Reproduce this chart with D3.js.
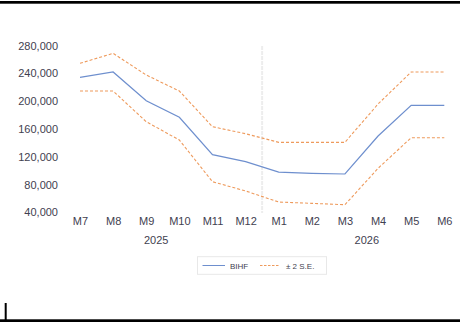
<!DOCTYPE html>
<html>
<head>
<meta charset="utf-8">
<script src="https://cdn.jsdelivr.net/npm/d3@7"></script>
<style>
  html, body { margin: 0; padding: 0; background: #fff; }
  svg { display: block; font-family: "Liberation Sans", Arial, sans-serif; }
</style>
</head>
<body>
<svg id="chart" width="460" height="322"></svg>
<script>
// Monthly categories (July 2025 – June 2026)
const months = ["M7", "M8", "M9", "M10", "M11", "M12", "M1", "M2", "M3", "M4", "M5", "M6"];
const years = [
  { label: "2025", pos: 2.3 },
  { label: "2026", pos: 8.66 }
];
// Forecast series and its ±2 standard-error band
const bihf  = [234500, 242100, 200800, 176800, 123000, 112900, 98000, 96200, 95200, 149900, 194100, 194100];
const upper = [254600, 269000, 237800, 214700, 163300, 153200, 140800, 140800, 140800, 196000, 242100, 242100];
const lower = [214700, 214700, 170500, 144100, 84100, 70700, 54800, 52900, 50900, 103400, 147500, 147500];
const yTicks = [40000, 80000, 120000, 160000, 200000, 240000, 280000];

const svg = d3.select("#chart");
const textColor = "#3f4150";

// Frame rules
svg.append("rect").attr("x", 0).attr("y", 1).attr("width", 460).attr("height", 2.7).attr("fill", "#000");
svg.append("rect").attr("x", 0).attr("y", 319.3).attr("width", 460).attr("height", 2.7).attr("fill", "#000");
svg.append("rect").attr("x", 4.7).attr("y", 303).attr("width", 2).attr("height", 17).attr("fill", "#000");

const x = d3.scalePoint().domain(months).range([80, 444.3]);
const y = d3.scaleLinear().domain([40000, 280000]).range([212.3, 45.7]);
const step = x.step();

// Year separator between M12 and M1
const sepX = (x("M12") + x("M1")) / 2;
svg.append("line")
  .attr("x1", sepX).attr("x2", sepX)
  .attr("y1", 46).attr("y2", 213)
  .attr("stroke", "#ededed").attr("stroke-width", 2)
  .attr("stroke-dasharray", "4,1");

// Y axis (labels only)
const yAxis = svg.append("g")
  .attr("transform", "translate(58,0)")
  .call(d3.axisLeft(y).tickValues(yTicks).tickSize(0).tickPadding(0).tickFormat(d3.format(",")));
yAxis.select(".domain").remove();
yAxis.selectAll("text")
  .attr("fill", textColor)
  .attr("font-size", 11)
  .attr("font-family", "'Liberation Sans', Arial, sans-serif");

// X axis (month labels)
const xAxis = svg.append("g")
  .attr("transform", "translate(0,214)")
  .call(d3.axisBottom(x).tickSize(0).tickPadding(3));
xAxis.select(".domain").remove();
xAxis.selectAll("text")
  .attr("fill", textColor)
  .attr("font-size", 11)
  .attr("font-family", "'Liberation Sans', Arial, sans-serif");

// Year labels
svg.selectAll("text.year")
  .data(years)
  .join("text")
  .attr("class", "year")
  .attr("x", d => x(months[0]) + d.pos * step)
  .attr("y", 244)
  .attr("text-anchor", "middle")
  .attr("font-size", 11)
  .attr("fill", textColor)
  .text(d => d.label);

const line = d3.line()
  .x((d, i) => x(months[i]))
  .y(d => y(d));

// Band lines
[upper, lower].forEach(series => {
  svg.append("path")
    .datum(series)
    .attr("d", line)
    .attr("fill", "none")
    .attr("stroke", "#ee9a5c")
    .attr("stroke-width", 1.1)
    .attr("stroke-dasharray", "3,2");
});

// Central series
svg.append("path")
  .datum(bihf)
  .attr("d", line)
  .attr("fill", "none")
  .attr("stroke", "#6e8fce")
  .attr("stroke-width", 1.2);

// Legend
const legend = svg.append("g");
legend.append("rect")
  .attr("x", 197.5).attr("y", 256.7)
  .attr("width", 129).attr("height", 17.6)
  .attr("fill", "#fff").attr("stroke", "#e8e8e8").attr("stroke-width", 1);
legend.append("line")
  .attr("x1", 202.5).attr("x2", 225).attr("y1", 265.5).attr("y2", 265.5)
  .attr("stroke", "#6e8fce").attr("stroke-width", 1);
legend.append("text")
  .attr("x", 230).attr("y", 268.5)
  .attr("font-size", 8).attr("fill", textColor)
  .text("BIHF");
legend.append("line")
  .attr("x1", 260).attr("x2", 280).attr("y1", 265.5).attr("y2", 265.5)
  .attr("stroke", "#ee9a5c").attr("stroke-width", 1).attr("stroke-dasharray", "2.5,1.5");
legend.append("text")
  .attr("x", 286).attr("y", 268.5)
  .attr("font-size", 8).attr("fill", textColor)
  .text("± 2 S.E.");
</script>
</body>
</html>
